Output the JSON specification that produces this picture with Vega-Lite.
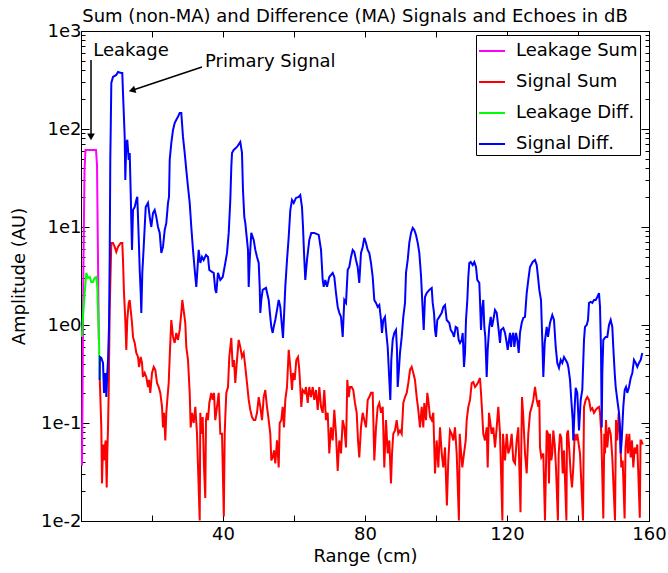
{
"$schema": "https://vega.github.io/schema/vega-lite/v6.json",
"width": 568, "height": 490,
"autosize": {"type": "none"},
"padding": {"left": 81, "top": 31, "right": 19, "bottom": 52},
"title": {"text": "Sum (non-MA) and Difference (MA) Signals and Echoes in dB", "fontSize": 18, "fontWeight": "normal", "color": "black", "anchor": "middle", "frame": "group", "dx": -10, "baseline": "bottom", "offset": -22},
"config": {
  "font": "DejaVu Sans",
  "view": {"stroke": "black", "strokeWidth": 1},
  "axis": {"domainColor": "black", "tickColor": "black", "labelColor": "black", "titleColor": "black", "labelFontSize": 18, "titleFontSize": 18, "titleFontWeight": "normal", "grid": false, "labelFont": "DejaVu Sans", "titleFont": "DejaVu Sans", "minExtent": 0},
  "legend": {"labelFont": "DejaVu Sans"}
},
"datasets": {
"leaksum": [{"range":0.28,"amp":0.0369},{"range":0.42,"amp":0.172},{"range":0.56,"amp":0.891},{"range":0.70,"amp":4.61},{"range":0.99,"amp":38.2},{"range":1.27,"amp":61.2},{"range":4.23,"amp":61.2},{"range":4.51,"amp":43.0},{"range":4.79,"amp":4.61},{"range":5.01,"amp":0.704}],
"leakdiff": [{"range":0.28,"amp":0.756},{"range":0.48,"amp":1.125},{"range":1.04,"amp":2.12},{"range":1.49,"amp":3.40},{"range":1.97,"amp":3.02},{"range":2.45,"amp":3.09},{"range":2.90,"amp":2.75},{"range":3.38,"amp":2.75},{"range":3.86,"amp":3.02},{"range":4.31,"amp":3.09},{"range":4.59,"amp":2.45},{"range":4.79,"amp":1.33},{"range":5.07,"amp":0.756},{"range":5.15,"amp":0.440},{"range":5.27,"amp":0.275}],
"sigsum": [{"range":5.30,"amp":0.275},{"range":5.72,"amp":0.0902},{"range":5.92,"amp":0.0242},{"range":6.20,"amp":0.0604},{"range":6.48,"amp":0.0415},{"range":6.68,"amp":0.0563},{"range":6.96,"amp":0.0664},{"range":7.24,"amp":0.0220},{"range":7.41,"amp":0.0489},{"range":7.61,"amp":0.0902},{"range":7.80,"amp":0.203},{"range":8.08,"amp":1.42},{"range":8.37,"amp":3.91},{"range":8.54,"amp":6.88},{"range":9.01,"amp":6.88},{"range":9.49,"amp":6.26},{"range":9.94,"amp":5.57},{"range":10.42,"amp":6.26},{"range":11.18,"amp":6.88},{"range":11.63,"amp":6.88},{"range":11.83,"amp":4.61},{"range":12.11,"amp":2.12},{"range":12.48,"amp":1.125},{"range":12.76,"amp":0.557},{"range":13.04,"amp":1.125},{"range":13.44,"amp":1.68},{"range":13.72,"amp":1.80},{"range":14.00,"amp":1.42},{"range":14.37,"amp":1.048},{"range":14.65,"amp":0.756},{"range":15.13,"amp":0.656},{"range":15.58,"amp":0.519},{"range":16.06,"amp":0.472},{"range":16.34,"amp":0.373},{"range":16.82,"amp":0.472},{"range":17.18,"amp":0.410},{"range":17.46,"amp":0.295},{"range":17.94,"amp":0.324},{"range":18.39,"amp":0.295},{"range":18.87,"amp":0.233},{"range":19.15,"amp":0.275},{"range":19.52,"amp":0.203},{"range":20.00,"amp":0.324},{"range":20.48,"amp":0.373},{"range":20.93,"amp":0.348},{"range":21.41,"amp":0.256},{"range":21.89,"amp":0.233},{"range":22.34,"amp":0.203},{"range":22.82,"amp":0.146},{"range":23.10,"amp":0.0902},{"range":23.38,"amp":0.127},{"range":23.75,"amp":0.0664},{"range":24.03,"amp":0.127},{"range":24.31,"amp":0.172},{"range":24.70,"amp":0.256},{"range":25.07,"amp":0.557},{"range":25.44,"amp":1.125},{"range":25.92,"amp":0.756},{"range":26.39,"amp":0.656},{"range":26.85,"amp":0.830},{"range":27.32,"amp":0.704},{"range":27.80,"amp":0.891},{"range":28.25,"amp":1.33},{"range":28.54,"amp":1.80},{"range":29.01,"amp":1.33},{"range":29.38,"amp":1.048},{"range":29.66,"amp":0.597},{"range":30.14,"amp":0.440},{"range":30.62,"amp":0.203},{"range":30.90,"amp":0.0902},{"range":31.27,"amp":0.127},{"range":31.75,"amp":0.100},{"range":32.20,"amp":0.146},{"range":32.68,"amp":0.0775},{"range":33.44,"amp":0.0101},{"range":33.61,"amp":0.127},{"range":33.89,"amp":0.0775},{"range":34.28,"amp":0.115},{"range":34.65,"amp":0.0352},{"range":35.01,"amp":0.0172},{"range":35.21,"amp":0.107},{"range":35.49,"amp":0.127},{"range":35.77,"amp":0.107},{"range":36.14,"amp":0.160},{"range":36.70,"amp":0.203},{"range":37.10,"amp":0.172},{"range":37.46,"amp":0.203},{"range":37.83,"amp":0.107},{"range":38.31,"amp":0.146},{"range":38.79,"amp":0.203},{"range":39.24,"amp":0.0775},{"range":39.72,"amp":0.0775},{"range":40.23,"amp":0.0111},{"range":40.48,"amp":0.0775},{"range":40.65,"amp":0.115},{"range":40.93,"amp":0.203},{"range":41.41,"amp":0.233},{"range":41.77,"amp":0.472},{"range":42.34,"amp":0.738},{"range":42.73,"amp":0.373},{"range":43.10,"amp":0.440},{"range":43.46,"amp":0.256},{"range":43.94,"amp":0.440},{"range":44.42,"amp":0.704},{"range":44.87,"amp":0.597},{"range":45.35,"amp":0.472},{"range":45.83,"amp":0.519},{"range":46.28,"amp":0.373},{"range":46.76,"amp":0.256},{"range":47.24,"amp":0.172},{"range":47.69,"amp":0.136},{"range":48.17,"amp":0.115},{"range":48.65,"amp":0.107},{"range":49.10,"amp":0.107},{"range":49.58,"amp":0.127},{"range":50.06,"amp":0.184},{"range":50.51,"amp":0.146},{"range":50.99,"amp":0.107},{"range":51.46,"amp":0.184},{"range":51.91,"amp":0.217},{"range":52.39,"amp":0.146},{"range":52.87,"amp":0.107},{"range":53.32,"amp":0.0775},{"range":53.61,"amp":0.0415},{"range":54.00,"amp":0.0445},{"range":54.37,"amp":0.0525},{"range":54.73,"amp":0.0387},{"range":55.21,"amp":0.0664},{"range":55.69,"amp":0.0352},{"range":55.97,"amp":0.100},{"range":56.42,"amp":0.107},{"range":56.82,"amp":0.146},{"range":57.18,"amp":0.0902},{"range":57.55,"amp":0.172},{"range":58.03,"amp":0.233},{"range":58.51,"amp":0.557},{"range":58.96,"amp":0.373},{"range":59.44,"amp":0.217},{"range":59.72,"amp":0.324},{"range":60.20,"amp":0.275},{"range":60.65,"amp":0.440},{"range":61.13,"amp":0.472},{"range":61.49,"amp":0.348},{"range":61.77,"amp":0.233},{"range":62.06,"amp":0.146},{"range":62.45,"amp":0.217},{"range":63.01,"amp":0.203},{"range":63.38,"amp":0.233},{"range":63.86,"amp":0.160},{"range":64.31,"amp":0.233},{"range":64.79,"amp":0.184},{"range":65.27,"amp":0.233},{"range":65.72,"amp":0.172},{"range":66.20,"amp":0.217},{"range":66.68,"amp":0.136},{"range":67.13,"amp":0.233},{"range":67.61,"amp":0.146},{"range":68.08,"amp":0.127},{"range":68.54,"amp":0.217},{"range":69.01,"amp":0.107},{"range":69.49,"amp":0.127},{"range":69.94,"amp":0.0489},{"range":70.42,"amp":0.0902},{"range":70.90,"amp":0.0664},{"range":71.35,"amp":0.136},{"range":71.83,"amp":0.0775},{"range":72.31,"amp":0.0324},{"range":72.76,"amp":0.0664},{"range":73.24,"amp":0.0489},{"range":73.72,"amp":0.107},{"range":74.17,"amp":0.0902},{"range":74.65,"amp":0.0563},{"range":75.01,"amp":0.275},{"range":75.41,"amp":0.184},{"range":75.77,"amp":0.233},{"range":76.25,"amp":0.233},{"range":76.70,"amp":0.217},{"range":77.18,"amp":0.160},{"range":77.66,"amp":0.127},{"range":78.03,"amp":0.0664},{"range":78.39,"amp":0.0445},{"range":78.87,"amp":0.0902},{"range":79.35,"amp":0.127},{"range":79.80,"amp":0.107},{"range":80.28,"amp":0.0902},{"range":80.76,"amp":0.172},{"range":81.21,"amp":0.184},{"range":81.69,"amp":0.203},{"range":82.17,"amp":0.203},{"range":82.62,"amp":0.0415},{"range":83.10,"amp":0.0902},{"range":83.58,"amp":0.146},{"range":84.03,"amp":0.160},{"range":84.51,"amp":0.127},{"range":84.99,"amp":0.146},{"range":85.44,"amp":0.0352},{"range":85.92,"amp":0.107},{"range":86.39,"amp":0.0489},{"range":86.85,"amp":0.0664},{"range":87.32,"amp":0.0242},{"range":87.61,"amp":0.0489},{"range":87.97,"amp":0.0775},{"range":88.45,"amp":0.0840},{"range":88.93,"amp":0.107},{"range":89.38,"amp":0.0775},{"range":89.86,"amp":0.0840},{"range":90.34,"amp":0.0775},{"range":90.79,"amp":0.160},{"range":91.27,"amp":0.184},{"range":91.75,"amp":0.203},{"range":92.20,"amp":0.256},{"range":92.68,"amp":0.348},{"range":93.15,"amp":0.373},{"range":93.61,"amp":0.324},{"range":94.08,"amp":0.275},{"range":94.56,"amp":0.184},{"range":95.01,"amp":0.136},{"range":95.49,"amp":0.0902},{"range":95.97,"amp":0.146},{"range":96.42,"amp":0.0902},{"range":96.70,"amp":0.160},{"range":97.18,"amp":0.107},{"range":97.55,"amp":0.203},{"range":97.83,"amp":0.172},{"range":98.31,"amp":0.115},{"range":98.79,"amp":0.107},{"range":99.24,"amp":0.127},{"range":99.72,"amp":0.0306},{"range":100.20,"amp":0.0664},{"range":100.65,"amp":0.0352},{"range":101.13,"amp":0.0902},{"range":101.61,"amp":0.0489},{"range":102.06,"amp":0.0352},{"range":102.54,"amp":0.0563},{"range":103.07,"amp":0.0144},{"range":103.46,"amp":0.0415},{"range":103.94,"amp":0.0840},{"range":104.42,"amp":0.0775},{"range":104.87,"amp":0.0664},{"range":105.35,"amp":0.0902},{"range":105.83,"amp":0.0489},{"range":106.45,"amp":0.0101},{"range":106.68,"amp":0.0775},{"range":106.96,"amp":0.0563},{"range":107.41,"amp":0.0352},{"range":107.89,"amp":0.0489},{"range":108.37,"amp":0.0664},{"range":108.65,"amp":0.107},{"range":109.10,"amp":0.146},{"range":109.58,"amp":0.172},{"range":110.06,"amp":0.256},{"range":110.51,"amp":0.262},{"range":110.99,"amp":0.233},{"range":111.46,"amp":0.245},{"range":111.92,"amp":0.262},{"range":112.39,"amp":0.288},{"range":112.68,"amp":0.203},{"range":112.96,"amp":0.136},{"range":113.32,"amp":0.0775},{"range":113.80,"amp":0.0664},{"range":114.28,"amp":0.0902},{"range":114.56,"amp":0.0352},{"range":114.93,"amp":0.127},{"range":115.21,"amp":0.107},{"range":115.69,"amp":0.0775},{"range":116.14,"amp":0.0902},{"range":116.62,"amp":0.0563},{"range":117.10,"amp":0.0902},{"range":117.55,"amp":0.146},{"range":118.03,"amp":0.0775},{"range":118.70,"amp":0.0101},{"range":118.87,"amp":0.0775},{"range":119.15,"amp":0.0563},{"range":119.44,"amp":0.0415},{"range":119.92,"amp":0.0775},{"range":120.37,"amp":0.0489},{"range":120.85,"amp":0.0563},{"range":121.32,"amp":0.0775},{"range":121.77,"amp":0.0415},{"range":122.25,"amp":0.0387},{"range":122.73,"amp":0.0664},{"range":123.18,"amp":0.0902},{"range":123.80,"amp":0.0123},{"range":124.08,"amp":0.0775},{"range":124.23,"amp":0.184},{"range":124.59,"amp":0.115},{"range":125.07,"amp":0.0489},{"range":125.55,"amp":0.0306},{"range":126.00,"amp":0.0775},{"range":126.48,"amp":0.127},{"range":126.96,"amp":0.146},{"range":127.41,"amp":0.172},{"range":127.89,"amp":0.233},{"range":128.37,"amp":0.172},{"range":128.82,"amp":0.146},{"range":129.10,"amp":0.172},{"range":129.30,"amp":0.0563},{"range":129.66,"amp":0.0445},{"range":130.23,"amp":0.0489},{"range":130.70,"amp":0.0101},{"range":131.18,"amp":0.0840},{"range":131.55,"amp":0.0775},{"range":131.83,"amp":0.0242},{"range":132.11,"amp":0.0775},{"range":132.48,"amp":0.0415},{"range":132.76,"amp":0.0489},{"range":133.04,"amp":0.0840},{"range":133.44,"amp":0.0604},{"range":133.80,"amp":0.0352},{"range":134.34,"amp":0.0101},{"range":134.56,"amp":0.0489},{"range":134.93,"amp":0.0775},{"range":135.30,"amp":0.0705},{"range":135.69,"amp":0.0306},{"range":136.06,"amp":0.0525},{"range":136.73,"amp":0.0101},{"range":136.90,"amp":0.0775},{"range":137.18,"amp":0.0840},{"range":137.55,"amp":0.0525},{"range":137.94,"amp":0.0306},{"range":138.31,"amp":0.0220},{"range":138.68,"amp":0.0352},{"range":139.07,"amp":0.0775},{"range":139.44,"amp":0.0664},{"range":139.80,"amp":0.0775},{"range":140.20,"amp":0.0604},{"range":140.56,"amp":0.0489},{"range":141.41,"amp":0.0101},{"range":141.69,"amp":0.146},{"range":142.17,"amp":0.172},{"range":142.62,"amp":0.184},{"range":143.10,"amp":0.172},{"range":143.58,"amp":0.136},{"range":144.03,"amp":0.142},{"range":144.51,"amp":0.127},{"range":144.99,"amp":0.136},{"range":145.44,"amp":0.142},{"range":145.92,"amp":0.146},{"range":146.20,"amp":0.127},{"range":146.56,"amp":0.0775},{"range":147.13,"amp":0.0106},{"range":147.41,"amp":0.0775},{"range":147.61,"amp":0.0489},{"range":147.89,"amp":0.107},{"range":148.25,"amp":0.0563},{"range":148.73,"amp":0.0902},{"range":149.21,"amp":0.0775},{"range":149.66,"amp":0.0445},{"range":150.42,"amp":0.0101},{"range":150.70,"amp":0.107},{"range":151.07,"amp":0.0664},{"range":151.46,"amp":0.127},{"range":151.83,"amp":0.0775},{"range":152.20,"amp":0.0352},{"range":152.59,"amp":0.0415},{"range":153.13,"amp":0.0106},{"range":153.38,"amp":0.0563},{"range":153.72,"amp":0.0775},{"range":154.08,"amp":0.0489},{"range":154.45,"amp":0.0775},{"range":154.85,"amp":0.0445},{"range":155.21,"amp":0.0664},{"range":155.58,"amp":0.0352},{"range":155.97,"amp":0.0563},{"range":156.34,"amp":0.0489},{"range":156.70,"amp":0.0604},{"range":157.41,"amp":0.0108},{"range":157.61,"amp":0.0664},{"range":157.83,"amp":0.0664},{"range":158.23,"amp":0.0604}],
"sigdiff": [{"range":5.25,"amp":0.275},{"range":5.33,"amp":0.472},{"range":5.72,"amp":0.461},{"range":6.20,"amp":0.410},{"range":6.48,"amp":0.203},{"range":6.85,"amp":0.324},{"range":7.13,"amp":0.184},{"range":7.41,"amp":0.324},{"range":7.61,"amp":0.440},{"range":7.89,"amp":0.956},{"range":8.08,"amp":4.61},{"range":8.25,"amp":48.4},{"range":8.37,"amp":97.9},{"range":8.54,"amp":295},{"range":9.01,"amp":340},{"range":9.94,"amp":356},{"range":10.42,"amp":382},{"range":11.35,"amp":373},{"range":11.63,"amp":373},{"range":11.83,"amp":233},{"range":12.31,"amp":83.0},{"range":12.48,"amp":30.2},{"range":12.76,"amp":72.1},{"range":13.04,"amp":77.4},{"range":13.44,"amp":48.4},{"range":13.72,"amp":57.0},{"range":14.00,"amp":22.3},{"range":14.17,"amp":11.8},{"range":14.37,"amp":5.84},{"range":14.65,"amp":14.9},{"range":15.13,"amp":16.0},{"range":15.58,"amp":18.9},{"range":15.86,"amp":20.3},{"range":16.25,"amp":7.92},{"range":16.54,"amp":3.65},{"range":16.82,"amp":2.12},{"range":16.99,"amp":1.33},{"range":17.27,"amp":3.40},{"range":17.66,"amp":6.26},{"range":18.23,"amp":16.0},{"range":18.87,"amp":17.6},{"range":19.35,"amp":12.7},{"range":19.80,"amp":10.0},{"range":20.28,"amp":13.9},{"range":20.76,"amp":14.9},{"range":21.21,"amp":12.7},{"range":21.69,"amp":10.0},{"range":22.17,"amp":8.71},{"range":22.62,"amp":5.44},{"range":23.10,"amp":6.26},{"range":23.58,"amp":9.34},{"range":24.03,"amp":11.0},{"range":24.51,"amp":17.6},{"range":24.79,"amp":20.3},{"range":24.99,"amp":48.4},{"range":25.44,"amp":72.1},{"range":25.92,"amp":97.9},{"range":26.39,"amp":115},{"range":26.85,"amp":124},{"range":27.32,"amp":133},{"range":27.80,"amp":146},{"range":28.25,"amp":146},{"range":28.73,"amp":83.0},{"range":29.21,"amp":57.0},{"range":29.66,"amp":38.2},{"range":30.14,"amp":25.6},{"range":30.62,"amp":17.6},{"range":31.07,"amp":10.0},{"range":31.55,"amp":5.84},{"range":32.03,"amp":3.65},{"range":32.48,"amp":2.45},{"range":33.15,"amp":5.84},{"range":33.61,"amp":4.30},{"range":34.08,"amp":4.95},{"range":34.56,"amp":4.61},{"range":35.21,"amp":5.19},{"range":35.77,"amp":4.95},{"range":36.14,"amp":3.65},{"range":36.90,"amp":3.48},{"range":37.38,"amp":3.40},{"range":37.83,"amp":2.28},{"range":38.11,"amp":2.12},{"range":38.59,"amp":3.40},{"range":39.24,"amp":2.88},{"range":39.92,"amp":3.09},{"range":40.65,"amp":4.30},{"range":41.13,"amp":5.44},{"range":41.61,"amp":8.71},{"range":42.06,"amp":18.9},{"range":42.34,"amp":41.0},{"range":42.54,"amp":57.0},{"range":43.01,"amp":61.2},{"range":43.94,"amp":65.6},{"range":44.87,"amp":73.8},{"range":45.35,"amp":57.0},{"range":45.63,"amp":23.9},{"range":46.00,"amp":12.7},{"range":46.28,"amp":11.0},{"range":46.56,"amp":8.71},{"range":47.04,"amp":5.84},{"range":47.24,"amp":2.45},{"range":47.52,"amp":4.61},{"range":47.97,"amp":8.71},{"range":48.65,"amp":7.38},{"range":49.10,"amp":5.84},{"range":49.58,"amp":4.95},{"range":50.06,"amp":4.30},{"range":50.34,"amp":2.45},{"range":50.51,"amp":1.33},{"range":50.79,"amp":1.80},{"range":51.18,"amp":2.28},{"range":52.11,"amp":2.39},{"range":52.87,"amp":1.80},{"range":53.32,"amp":1.21},{"range":53.61,"amp":0.956},{"range":54.00,"amp":0.830},{"range":54.28,"amp":0.956},{"range":54.73,"amp":1.125},{"range":55.21,"amp":1.42},{"range":55.69,"amp":1.80},{"range":56.14,"amp":1.53},{"range":56.62,"amp":0.956},{"range":56.90,"amp":0.738},{"range":57.18,"amp":1.21},{"range":57.55,"amp":2.45},{"range":58.03,"amp":4.61},{"range":58.51,"amp":7.92},{"range":58.96,"amp":14.9},{"range":59.44,"amp":18.9},{"range":59.92,"amp":17.6},{"range":60.56,"amp":19.8},{"range":61.32,"amp":20.3},{"range":61.77,"amp":21.2},{"range":62.25,"amp":16.0},{"range":62.54,"amp":10.0},{"range":62.82,"amp":5.44},{"range":63.18,"amp":2.88},{"range":63.66,"amp":4.61},{"range":64.31,"amp":7.38},{"range":64.87,"amp":8.71},{"range":65.72,"amp":8.71},{"range":66.96,"amp":8.30},{"range":67.61,"amp":5.84},{"range":68.08,"amp":2.88},{"range":68.37,"amp":2.45},{"range":68.82,"amp":2.88},{"range":69.30,"amp":2.45},{"range":69.94,"amp":3.09},{"range":70.90,"amp":3.40},{"range":71.35,"amp":3.09},{"range":71.83,"amp":2.12},{"range":72.31,"amp":1.53},{"range":72.76,"amp":1.33},{"range":73.24,"amp":1.21},{"range":73.72,"amp":0.756},{"range":74.17,"amp":1.80},{"range":74.65,"amp":1.68},{"range":75.13,"amp":3.65},{"range":75.58,"amp":3.91},{"range":76.06,"amp":4.95},{"range":76.54,"amp":5.84},{"range":76.99,"amp":5.57},{"range":77.46,"amp":4.61},{"range":77.94,"amp":3.91},{"range":78.39,"amp":2.69},{"range":78.87,"amp":5.44},{"range":79.35,"amp":6.26},{"range":79.80,"amp":7.74},{"range":80.28,"amp":6.88},{"range":80.76,"amp":5.84},{"range":81.21,"amp":5.44},{"range":81.69,"amp":4.30},{"range":82.17,"amp":3.09},{"range":82.62,"amp":1.80},{"range":83.10,"amp":1.68},{"range":83.58,"amp":1.53},{"range":84.03,"amp":1.60},{"range":84.51,"amp":1.125},{"range":84.79,"amp":0.830},{"range":85.15,"amp":1.125},{"range":85.63,"amp":1.21},{"range":85.92,"amp":0.891},{"range":86.39,"amp":0.597},{"range":86.85,"amp":0.275},{"range":87.13,"amp":0.172},{"range":87.41,"amp":0.440},{"range":87.80,"amp":0.704},{"range":88.25,"amp":0.830},{"range":88.73,"amp":0.891},{"range":89.01,"amp":0.557},{"range":89.21,"amp":0.233},{"range":89.49,"amp":0.324},{"range":89.86,"amp":0.519},{"range":90.34,"amp":0.756},{"range":90.79,"amp":1.21},{"range":91.27,"amp":1.68},{"range":91.55,"amp":3.40},{"range":92.03,"amp":4.61},{"range":92.48,"amp":6.88},{"range":92.96,"amp":8.71},{"range":93.44,"amp":9.79},{"range":93.89,"amp":9.34},{"range":94.37,"amp":8.30},{"range":94.85,"amp":6.88},{"range":95.30,"amp":5.44},{"range":95.77,"amp":3.24},{"range":96.25,"amp":1.42},{"range":96.54,"amp":0.891},{"range":96.90,"amp":1.93},{"range":97.38,"amp":2.12},{"range":98.11,"amp":2.28},{"range":98.79,"amp":2.39},{"range":99.07,"amp":1.68},{"range":99.44,"amp":1.33},{"range":99.72,"amp":0.891},{"range":100.00,"amp":0.756},{"range":100.37,"amp":1.125},{"range":100.93,"amp":1.21},{"range":101.61,"amp":1.33},{"range":102.06,"amp":1.53},{"range":102.54,"amp":1.60},{"range":103.01,"amp":1.125},{"range":103.75,"amp":1.048},{"range":104.14,"amp":0.891},{"range":104.70,"amp":0.830},{"range":105.07,"amp":0.756},{"range":105.55,"amp":0.956},{"range":106.00,"amp":0.934},{"range":106.39,"amp":0.704},{"range":106.76,"amp":0.656},{"range":107.24,"amp":0.704},{"range":107.52,"amp":0.830},{"range":107.89,"amp":0.373},{"range":108.17,"amp":0.519},{"range":108.45,"amp":1.125},{"range":108.82,"amp":1.80},{"range":109.10,"amp":3.09},{"range":109.38,"amp":4.30},{"range":109.77,"amp":4.40},{"range":110.34,"amp":4.10},{"range":110.79,"amp":4.40},{"range":111.27,"amp":3.91},{"range":111.63,"amp":2.88},{"range":112.20,"amp":2.69},{"range":112.39,"amp":1.80},{"range":112.68,"amp":0.891},{"range":112.96,"amp":1.42},{"range":113.32,"amp":1.80},{"range":113.61,"amp":0.956},{"range":113.89,"amp":0.756},{"range":114.28,"amp":0.295},{"range":114.56,"amp":0.557},{"range":115.01,"amp":0.956},{"range":115.41,"amp":1.21},{"range":115.77,"amp":0.956},{"range":116.14,"amp":1.125},{"range":116.62,"amp":1.42},{"range":117.10,"amp":1.33},{"range":117.55,"amp":0.956},{"range":118.03,"amp":0.656},{"range":118.31,"amp":0.891},{"range":118.96,"amp":0.934},{"range":119.44,"amp":0.830},{"range":119.92,"amp":0.656},{"range":120.20,"amp":0.557},{"range":120.56,"amp":0.704},{"range":120.85,"amp":0.830},{"range":121.13,"amp":0.597},{"range":121.41,"amp":0.756},{"range":121.77,"amp":0.830},{"range":122.06,"amp":0.597},{"range":122.54,"amp":0.830},{"range":122.90,"amp":0.704},{"range":123.30,"amp":0.519},{"range":123.66,"amp":0.830},{"range":124.14,"amp":1.048},{"range":124.59,"amp":1.18},{"range":125.07,"amp":1.21},{"range":125.55,"amp":2.12},{"range":126.00,"amp":2.88},{"range":126.48,"amp":3.91},{"range":127.24,"amp":4.40},{"range":127.89,"amp":4.61},{"range":128.37,"amp":4.10},{"range":128.82,"amp":2.88},{"range":129.10,"amp":2.28},{"range":129.58,"amp":1.80},{"range":129.94,"amp":0.704},{"range":130.23,"amp":0.295},{"range":130.62,"amp":0.656},{"range":131.18,"amp":0.956},{"range":131.55,"amp":0.756},{"range":132.11,"amp":1.048},{"range":132.76,"amp":1.265},{"range":133.24,"amp":1.125},{"range":133.72,"amp":0.597},{"range":134.17,"amp":0.410},{"range":134.65,"amp":0.365},{"range":135.13,"amp":0.440},{"range":135.58,"amp":0.410},{"range":136.06,"amp":0.472},{"range":136.54,"amp":0.440},{"range":136.99,"amp":0.410},{"range":137.27,"amp":0.373},{"range":137.75,"amp":0.275},{"range":138.11,"amp":0.172},{"range":138.51,"amp":0.107},{"range":138.68,"amp":0.0664},{"range":139.07,"amp":0.146},{"range":139.35,"amp":0.228},{"range":139.80,"amp":0.203},{"range":140.28,"amp":0.0840},{"range":140.76,"amp":0.172},{"range":141.21,"amp":0.217},{"range":141.69,"amp":0.704},{"range":141.97,"amp":0.956},{"range":142.45,"amp":1.0},{"range":142.82,"amp":1.125},{"range":143.10,"amp":1.68},{"range":143.58,"amp":1.72},{"range":144.03,"amp":1.68},{"range":144.51,"amp":1.80},{"range":144.99,"amp":1.80},{"range":145.44,"amp":1.93},{"range":145.92,"amp":2.12},{"range":146.20,"amp":1.53},{"range":146.48,"amp":0.557},{"range":146.68,"amp":0.0902},{"range":146.85,"amp":0.324},{"range":147.13,"amp":0.704},{"range":147.80,"amp":0.756},{"range":148.25,"amp":0.756},{"range":148.73,"amp":1.0},{"range":149.21,"amp":1.125},{"range":149.66,"amp":0.956},{"range":149.94,"amp":0.597},{"range":150.34,"amp":0.324},{"range":150.62,"amp":0.233},{"range":151.07,"amp":0.172},{"range":151.55,"amp":0.127},{"range":151.83,"amp":0.0902},{"range":152.03,"amp":0.0489},{"range":152.31,"amp":0.0664},{"range":152.48,"amp":0.0902},{"range":152.76,"amp":0.146},{"range":153.15,"amp":0.217},{"range":153.52,"amp":0.233},{"range":153.89,"amp":0.203},{"range":154.37,"amp":0.233},{"range":154.85,"amp":0.288},{"range":155.30,"amp":0.324},{"range":155.77,"amp":0.440},{"range":156.25,"amp":0.410},{"range":156.70,"amp":0.373},{"range":157.18,"amp":0.410},{"range":157.66,"amp":0.440},{"range":158.11,"amp":0.519}],
"notes": [{"range":3.46,"amp":557,"note":"Leakage"},{"range":34.93,"amp":430,"note":"Primary Signal"}],
"arrows": [{"range":2.82,"amp":507,"range2":2.82,"amp2":85.0,"target":"Leakage"},{"range":34.08,"amp":430,"range2":14.68,"amp2":250,"target":"Primary Signal"}],
"tipleak": [{"range":2.82,"amp":83.0}],
"tipsig": [{"range":14.68,"amp":250}]
},
"resolve": {"axis": {"x": "independent", "y": "independent"}},
"layer": [
{
 "data": {"name": "leaksum"},
 "mark": {"type": "line", "strokeWidth": 2, "clip": true},
 "encoding": {
  "x": {"field": "range", "type": "quantitative", "scale": {"domain": [0, 160], "nice": false},
   "axis": {"orient": "bottom", "values": [0,20,40,60,80,100,120,140,160], "labelExpr": "datum.value % 40 === 0 && datum.value > 0 ? datum.label : ''", "tickSize": -6, "labelPadding": 10, "labelFlush": false, "labelOverlap": false, "title": "Range (cm)", "titlePadding": 4}},
  "y": {"field": "amp", "type": "quantitative", "scale": {"type": "log", "domain": [0.01, 1000], "nice": false},
   "axis": {"orient": "left", "values": [0.01,0.02,0.03,0.04,0.05,0.06,0.07,0.08,0.09,0.1,0.2,0.3,0.4,0.5,0.6,0.7,0.8,0.9,1,2,3,4,5,6,7,8,9,10,20,30,40,50,60,70,80,90,100,200,300,400,500,600,700,800,900,1000],
    "labelExpr": "indexof([0.01,0.1,1,10,100,1000], datum.value) >= 0 ? '1e' + round(log(datum.value)/LN10) : ''",
    "tickSize": {"condition": {"test": "indexof([0.01,0.1,1,10,100,1000], datum.value) >= 0", "value": -8}, "value": -4},
    "labelPadding": 8, "labelOverlap": false, "labelFlush": false, "title": "Amplitude (AU)", "titlePadding": 12}},
  "color": {"datum": "Leakage Sum", "type": "nominal", "scale": {"domain": ["Leakage Sum", "Signal Sum", "Leakage Diff.", "Signal Diff."], "range": ["#ff00ff", "#ff0000", "#00ff00", "#0000ff"]},
   "legend": {"orient": "none", "legendX": 395, "legendY": 4, "title": null, "symbolType": "stroke", "symbolSize": 676, "symbolStrokeWidth": 2, "labelFontSize": 18, "labelColor": "black", "strokeColor": "black", "fillColor": "white", "padding": 2, "rowPadding": 8, "labelOffset": 10, "labelLimit": 300, "cornerRadius": 0}}
 }
},
{
 "data": {"name": "sigsum"},
 "mark": {"type": "line", "strokeWidth": 2, "clip": true},
 "encoding": {
  "x": {"field": "range", "type": "quantitative", "scale": {"domain": [0, 160], "nice": false}, "axis": null},
  "y": {"field": "amp", "type": "quantitative", "scale": {"type": "log", "domain": [0.01, 1000], "nice": false}, "axis": null},
  "color": {"datum": "Signal Sum", "type": "nominal"}
 }
},
{
 "data": {"name": "leakdiff"},
 "mark": {"type": "line", "strokeWidth": 2, "clip": true},
 "encoding": {
  "x": {"field": "range", "type": "quantitative", "scale": {"domain": [0, 160], "nice": false}, "axis": null},
  "y": {"field": "amp", "type": "quantitative", "scale": {"type": "log", "domain": [0.01, 1000], "nice": false}, "axis": null},
  "color": {"datum": "Leakage Diff.", "type": "nominal"}
 }
},
{
 "data": {"name": "sigdiff"},
 "mark": {"type": "line", "strokeWidth": 2, "clip": true},
 "encoding": {
  "x": {"field": "range", "type": "quantitative", "scale": {"domain": [0, 160], "nice": false}, "axis": null},
  "y": {"field": "amp", "type": "quantitative", "scale": {"type": "log", "domain": [0.01, 1000], "nice": false}, "axis": null},
  "color": {"datum": "Signal Diff.", "type": "nominal"}
 }
},
{
 "data": {"name": "tipleak"},
 "mark": {"type": "point", "opacity": 0},
 "encoding": {
  "x": {"field": "range", "type": "quantitative", "scale": {"domain": [0, 160], "nice": false},
   "axis": {"orient": "top", "values": [0,20,40,60,80,100,120,140,160], "labels": false, "tickSize": -6, "title": null, "minExtent": 0, "maxExtent": 0}},
  "y": {"field": "amp", "type": "quantitative", "scale": {"type": "log", "domain": [0.01, 1000], "nice": false},
   "axis": {"orient": "right", "values": [0.01,0.02,0.03,0.04,0.05,0.06,0.07,0.08,0.09,0.1,0.2,0.3,0.4,0.5,0.6,0.7,0.8,0.9,1,2,3,4,5,6,7,8,9,10,20,30,40,50,60,70,80,90,100,200,300,400,500,600,700,800,900,1000], "labels": false, "title": null, "minExtent": 0, "maxExtent": 0,
    "tickSize": {"condition": {"test": "indexof([0.01,0.1,1,10,100,1000], datum.value) >= 0", "value": -8}, "value": -4}}}
 }
},
{
 "data": {"name": "arrows"},
 "mark": {"type": "rule", "color": "black", "strokeWidth": 1.5},
 "encoding": {
  "x": {"field": "range", "type": "quantitative", "scale": {"domain": [0, 160], "nice": false}, "axis": null},
  "y": {"field": "amp", "type": "quantitative", "scale": {"type": "log", "domain": [0.01, 1000], "nice": false}, "axis": null},
  "x2": {"field": "range2"},
  "y2": {"field": "amp2"}
 }
},
{
 "data": {"name": "tipleak"},
 "mark": {"type": "point", "shape": "triangle-down", "filled": true, "color": "black", "size": 60, "opacity": 1},
 "encoding": {
  "x": {"field": "range", "type": "quantitative", "scale": {"domain": [0, 160], "nice": false}, "axis": null},
  "y": {"field": "amp", "type": "quantitative", "scale": {"type": "log", "domain": [0.01, 1000], "nice": false}, "axis": null}
 }
},
{
 "data": {"name": "tipsig"},
 "mark": {"type": "point", "shape": "triangle", "angle": 253, "filled": true, "color": "black", "size": 60, "opacity": 1},
 "encoding": {
  "x": {"field": "range", "type": "quantitative", "scale": {"domain": [0, 160], "nice": false}, "axis": null},
  "y": {"field": "amp", "type": "quantitative", "scale": {"type": "log", "domain": [0.01, 1000], "nice": false}, "axis": null}
 }
},
{
 "data": {"name": "notes"},
 "mark": {"type": "text", "align": "left", "baseline": "alphabetic", "fontSize": 18, "color": "black", "font": "DejaVu Sans"},
 "encoding": {
  "x": {"field": "range", "type": "quantitative", "scale": {"domain": [0, 160], "nice": false}, "axis": null},
  "y": {"field": "amp", "type": "quantitative", "scale": {"type": "log", "domain": [0.01, 1000], "nice": false}, "axis": null},
  "text": {"field": "note"}
 }
}
]
}
